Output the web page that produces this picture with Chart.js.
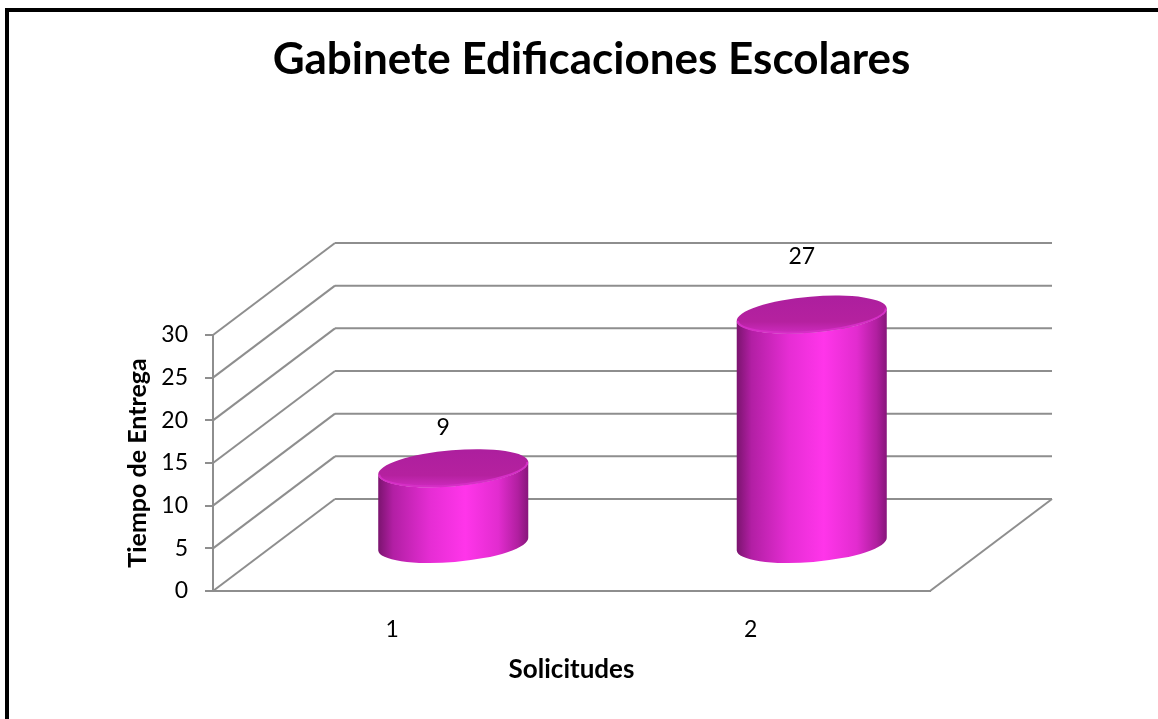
<!DOCTYPE html>
<html>
<head>
<meta charset="utf-8">
<script src="https://cdn.jsdelivr.net/npm/chart.js@4.4.1/dist/chart.umd.min.js"></script>
<style>
  html, body { margin: 0; padding: 0; background: #fff; }
</style>
</head>
<body>
<canvas id="myChart" width="1158" height="719"></canvas>
<script>
const categories = ['1', '2'];
const tiempoEntrega = [9, 27];
const yTicks = [0, 5, 10, 15, 20, 25, 30];

// 3d depth of the floor, in pixels
const DEPTH_X = 122;
const DEPTH_Y = -92;
const FONT = 'Lato';
const GRID = '#8e8e8e';

function line(ctx, x1, y1, x2, y2) {
  ctx.beginPath();
  ctx.moveTo(x1, y1);
  ctx.lineTo(x2, y2);
  ctx.stroke();
}

const frame = {
  id: 'frame',
  beforeDraw(chart) {
    const ctx = chart.ctx;
    ctx.save();
    ctx.fillStyle = '#fff';
    ctx.fillRect(0, 0, chart.width, chart.height);
    ctx.fillStyle = '#000';
    ctx.fillRect(5, 8, 4, chart.height - 8);
    ctx.fillRect(5, 8, chart.width - 5, 4);
    ctx.restore();
  }
};

const walls = {
  id: 'walls',
  beforeDatasetsDraw(chart) {
    const {ctx, chartArea: a, scales: {y}} = chart;
    ctx.save();
    ctx.strokeStyle = GRID;
    ctx.lineWidth = 2;
    yTicks.forEach(v => {
      const py = y.getPixelForValue(v);
      line(ctx, a.left, py, a.left + DEPTH_X, py + DEPTH_Y);
      line(ctx, a.left + DEPTH_X, py + DEPTH_Y, a.right + DEPTH_X, py + DEPTH_Y);
    });
    line(ctx, a.right, a.bottom, a.right + DEPTH_X, a.bottom + DEPTH_Y);
    ctx.restore();
  }
};

const cylinders = {
  id: 'cylinders',
  afterDatasetsDraw(chart) {
    const ctx = chart.ctx;
    const meta = chart.getDatasetMeta(0);
    meta.data.forEach((bar, i) => {
      const cx = bar.x + DEPTH_X / 2;
      const top = bar.y + DEPTH_Y / 2;
      const base = bar.base + DEPTH_Y / 2;
      const rx = bar.width / 2;
      const ry = 18;
      const rot = -0.085;

      ctx.save();
      const g = ctx.createLinearGradient(cx - rx, 0, cx + rx, 0);
      g.addColorStop(0, '#7a146e');
      g.addColorStop(0.1, '#b21fa4');
      g.addColorStop(0.35, '#e62dd4');
      g.addColorStop(0.58, '#ff35ea');
      g.addColorStop(0.8, '#e22ccf');
      g.addColorStop(0.93, '#b11fa0');
      g.addColorStop(1, '#86167a');
      ctx.fillStyle = g;
      ctx.beginPath();
      ctx.ellipse(cx, base, rx, ry, rot, Math.PI, 0, true);
      ctx.ellipse(cx, top, rx, ry, rot, 0, Math.PI, false);
      ctx.closePath();
      ctx.fill();

      // top face
      const gt = ctx.createLinearGradient(0, top - ry, 0, top + ry);
      gt.addColorStop(0, '#ad1f9e');
      gt.addColorStop(0.7, '#b5219f');
      gt.addColorStop(1, '#cc2abd');
      ctx.fillStyle = gt;
      ctx.beginPath();
      ctx.ellipse(cx, top, rx, ry, rot, 0, Math.PI * 2);
      ctx.fill();
      ctx.strokeStyle = '#d52fc6';
      ctx.lineWidth = 2;
      ctx.beginPath();
      ctx.ellipse(cx, top, rx - 1, ry - 1, rot, 0, Math.PI, false);
      ctx.stroke();

      // value label
      ctx.fillStyle = '#000';
      ctx.font = '23px ' + FONT;
      ctx.textAlign = 'center';
      ctx.textBaseline = 'middle';
      ctx.fillText(String(tiempoEntrega[i]), cx - 10, top - 32.5 - 0.11 * (base - top));
      ctx.restore();
    });
  }
};

const chart = new Chart(document.getElementById('myChart').getContext('2d'), {
  type: 'bar',
  data: {
    labels: categories,
    datasets: [{
      label: 'Tiempo de Entrega',
      data: tiempoEntrega,
      backgroundColor: 'rgba(0,0,0,0)',
      barPercentage: 0.42,
      categoryPercentage: 1
    }]
  },
  options: {
    responsive: false,
    animation: false,
    layout: { padding: { left: 25, right: 0, top: 0, bottom: 0 } },
    plugins: {
      legend: { display: false },
      tooltip: { enabled: false },
      title: {
        display: true,
        text: 'Gabinete Edificaciones Escolares',
        color: '#000',
        font: { family: FONT, size: 44, weight: 'bold', lineHeight: 1.2 },
        padding: { top: 33.6, bottom: 248.6 }
      }
    },
    scales: {
      x: {
        offset: true,
        grid: { display: false, drawTicks: false },
        border: { display: true, color: GRID, width: 2 },
        ticks: { color: '#000', padding: 25, font: { family: FONT, size: 23 } },
        title: {
          display: true,
          text: 'Solicitudes',
          color: '#000',
          font: { family: FONT, size: 26, weight: 'bold', lineHeight: 1.2 },
          padding: { top: 0, bottom: 33.4 }
        },
        afterFit(s) { s.height = 128; }
      },
      y: {
        min: 0,
        max: 30,
        grid: { drawOnChartArea: false, drawTicks: true, tickLength: 8, color: GRID, lineWidth: 2 },
        border: { display: true, color: GRID, width: 2 },
        ticks: { stepSize: 5, color: '#000', padding: 17, font: { family: FONT, size: 23 } },
        title: {
          display: true,
          text: 'Tiempo de Entrega',
          color: '#000',
          font: { family: FONT, size: 25, weight: 'bold', lineHeight: 1.2 },
          padding: { top: 98, bottom: 0 }
        },
        afterFit(s) { s.width = 188; }
      },
      y2: {
        position: 'right',
        display: true,
        grid: { display: false },
        border: { display: false },
        ticks: { display: false },
        afterFit(s) { s.width = 228; }
      }
    }
  },
  plugins: [frame, walls, cylinders]
});
</script>
</body>
</html>
